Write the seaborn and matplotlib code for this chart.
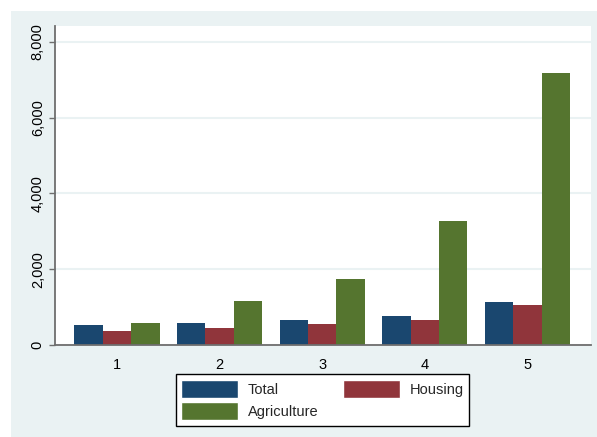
import matplotlib
matplotlib.use("Agg")
import matplotlib.pyplot as plt
from matplotlib.patches import Rectangle, Patch
from matplotlib.ticker import FuncFormatter
import seaborn as sns
import pandas as pd

groups = ["1", "2", "3", "4", "5"]
total = [520, 588, 660, 757, 1143]
housing = [361, 449, 554, 660, 1064]
agriculture = [588, 1170, 1750, 3272, 7177]
series_names = ["Total", "Housing", "Agriculture"]
colors = ["#1A476F", "#90353B", "#55752F"]
yticks = [0, 2000, 4000, 6000, 8000]

df = pd.DataFrame({
    "group": groups * 3,
    "value": total + housing + agriculture,
    "series": [s for s in series_names for _ in groups],
})

sns.set_theme(style="white")
plt.rcParams["font.family"] = ["Liberation Sans", "DejaVu Sans"]

W, H = 597, 437
fig = plt.figure(figsize=(W / 100, H / 100), dpi=100, facecolor="white")
bg = Rectangle((11 / W, 0), 1 - 11 / W, 1 - 11 / H,
               transform=fig.transFigure, facecolor="#EAF2F3",
               edgecolor="none", zorder=-10)
fig.patches.append(bg)
ax = fig.add_axes([55 / W, (H - 345) / H, (591 - 55) / W, (345 - 26) / H])
ax.set_zorder(1)
ax.set_facecolor("white")

sns.barplot(data=df, x="group", y="value", hue="series", hue_order=series_names,
            palette=colors, width=0.83, gap=0, saturation=1, ax=ax,
            linewidth=0, legend=False, zorder=3)

ax.set_xlim(-0.605, 4.62)
ax.set_ylim(0, 8420)
ax.set_yticks(yticks)
ax.yaxis.set_major_formatter(FuncFormatter(lambda v, p: f"{int(v):,}"))
ax.grid(axis="y", color="#EAF2F3", linewidth=1.5, zorder=0)
ax.set_axisbelow(True)
ax.set_xlabel("")
ax.set_ylabel("")
for s in ["top", "right"]:
    ax.spines[s].set_visible(False)
for s in ["left", "bottom"]:
    ax.spines[s].set_color("#6e6e6e")
    ax.spines[s].set_linewidth(1.3)
    ax.spines[s].set_zorder(5)
ax.tick_params(axis="y", left=True, length=4.3, width=1, color="#6e6e6e",
               labelsize=10.5, pad=3, labelcolor="black")
ax.tick_params(axis="x", bottom=False, labelsize=10.5, pad=3.5, labelcolor="black")
for lab in ax.get_yticklabels():
    lab.set_rotation(90)
    lab.set_va("center")

handles = [Patch(facecolor=colors[0], label="Total"),
           Patch(facecolor=colors[2], label="Agriculture"),
           Patch(facecolor=colors[1], label="Housing")]
leg = fig.legend(handles=handles, ncol=2, loc="upper center",
                 bbox_to_anchor=(322.5 / W, 1 - 374 / H), fontsize=10.5,
                 frameon=True, fancybox=False, edgecolor="black",
                 facecolor="white", framealpha=1, handlelength=3.9,
                 handleheight=1.5, handletextpad=0.65, columnspacing=1.7,
                 labelspacing=0.3, borderpad=0.4, borderaxespad=0)
leg.get_frame().set_linewidth(1.0)
leg.set_zorder(5)

fig.savefig("out.png", dpi=100, facecolor="white")
